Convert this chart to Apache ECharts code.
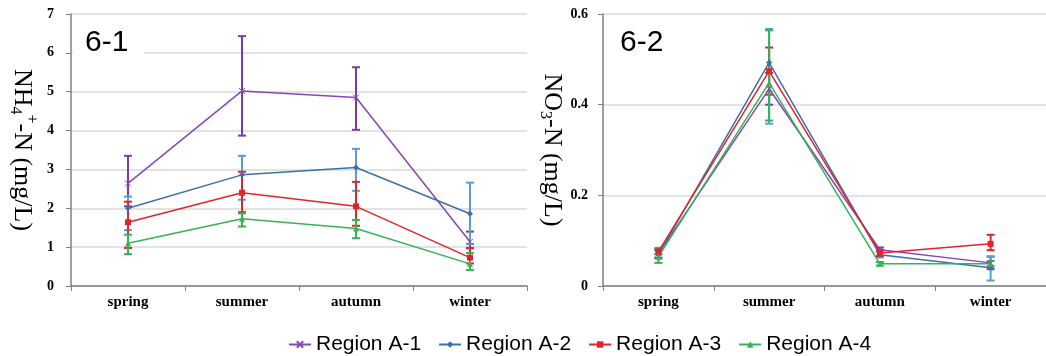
<!DOCTYPE html>
<html>
<head>
<meta charset="utf-8">
<script src="https://cdn.jsdelivr.net/npm/echarts@6/dist/echarts.min.js"></script>
<style>html,body{margin:0;padding:0;background:#fff}#c{width:1046px;height:356px}</style>
</head>
<body>
<div id="c"></div>
<script>
const seasons = ['spring', 'summer', 'autumn', 'winter'];
const regions = ['Region A-1', 'Region A-2', 'Region A-3', 'Region A-4'];

// NH4+-N (mg/L)
const nh4A1 = [2.64, 5.02, 4.85, 1.14];
const nh4A2 = [2.00, 2.86, 3.05, 1.86];
const nh4A3 = [1.64, 2.40, 2.05, 0.73];
const nh4A4 = [1.10, 1.73, 1.48, 0.57];
const nh4A1Hi = [3.35, 6.43, 5.63, 1.40];
const nh4A2Hi = [2.30, 3.35, 3.53, 2.66];
const nh4A3Hi = [2.17, 2.94, 2.68, 0.98];
const nh4A4Hi = [1.32, 1.87, 1.70, 0.85];
const nh4A1Lo = [2.05, 3.87, 4.02, 0.97];
const nh4A2Lo = [1.44, 2.22, 2.45, 1.08];
const nh4A3Lo = [0.98, 1.90, 1.55, 0.58];
const nh4A4Lo = [0.82, 1.53, 1.23, 0.41];

// NO3-N (mg/L)
const no3A1 = [0.071, 0.435, 0.080, 0.051];
const no3A2 = [0.069, 0.493, 0.069, 0.040];
const no3A3 = [0.076, 0.474, 0.073, 0.093];
const no3A4 = [0.065, 0.448, 0.049, 0.049];
const no3A1Hi = [0.080, 0.470, 0.085, 0.065];
const no3A2Hi = [0.078, 0.567, 0.075, 0.065];
const no3A3Hi = [0.082, 0.526, 0.080, 0.113];
const no3A4Hi = [0.084, 0.564, 0.053, 0.055];
const no3A1Lo = [0.062, 0.400, 0.075, 0.037];
const no3A2Lo = [0.060, 0.358, 0.063, 0.012];
const no3A3Lo = [0.070, 0.422, 0.066, 0.079];
const no3A4Lo = [0.051, 0.365, 0.045, 0.043];

const lineColors = ['#8a45b5', '#3d6fa8', '#e0242c', '#35b356'];
const barColors = ['#7b3aa8', '#5a9bd8', '#e0242c', '#2fb552'];
const symbols = ['path://M0,0L10,10M10,0L0,10', 'diamond', 'rect', 'triangle'];
const symbolSizes = [6, 6, 6, 6];

const nh4Means = [nh4A1, nh4A2, nh4A3, nh4A4];
const nh4His = [nh4A1Hi, nh4A2Hi, nh4A3Hi, nh4A4Hi];
const nh4Los = [nh4A1Lo, nh4A2Lo, nh4A3Lo, nh4A4Lo];
const no3Means = [no3A1, no3A2, no3A3, no3A4];
const no3His = [no3A1Hi, no3A2Hi, no3A3Hi, no3A4Hi];
const no3Los = [no3A1Lo, no3A2Lo, no3A3Lo, no3A4Lo];

const serif = "'Liberation Serif', 'Times New Roman', serif";
const sans = "'Liberation Sans', Arial, sans-serif";

function errSeries(idx, lo, hi, color) {
  return {
    type: 'custom',
    name: 'err' + idx,
    xAxisIndex: idx, yAxisIndex: idx,
    z: 3,
    silent: true,
    data: seasons.map((s, i) => [i, lo[i], hi[i]]),
    renderItem: function (params, api) {
      const x = api.value(0);
      const a = api.coord([x, api.value(1)]);
      const b = api.coord([x, api.value(2)]);
      const w = 4;
      const st = { stroke: color, lineWidth: 2 };
      return {
        type: 'group',
        children: [
          { type: 'line', shape: { x1: a[0], y1: a[1], x2: b[0], y2: b[1] }, style: st },
          { type: 'line', shape: { x1: a[0] - w, y1: a[1], x2: a[0] + w, y2: a[1] }, style: st },
          { type: 'line', shape: { x1: b[0] - w, y1: b[1], x2: b[0] + w, y2: b[1] }, style: st }
        ]
      };
    }
  };
}

function lineSeries(idx, r, data) {
  return {
    type: 'line',
    name: regions[r],
    xAxisIndex: idx, yAxisIndex: idx,
    z: 4,
    data: data,
    symbol: symbols[r],
    symbolSize: symbolSizes[r],
    showAllSymbol: true,
    lineStyle: { color: lineColors[r], width: 1.5 },
    itemStyle: { color: lineColors[r], borderColor: lineColors[r], borderWidth: r === 0 ? 1 : 0 }
  };
}

const series = [];
for (let r = 0; r < 4; r++) {
  series.push(errSeries(0, nh4Los[r], nh4His[r], barColors[r]));
  series.push(errSeries(1, no3Los[r], no3His[r], barColors[r]));
}
for (let r = 0; r < 4; r++) {
  series.push(lineSeries(0, r, nh4Means[r]));
  series.push(lineSeries(1, r, no3Means[r]));
}

function xAxis(grid) {
  return {
    type: 'category', gridIndex: grid, data: seasons,
    axisLine: { lineStyle: { color: '#808080', width: 1.5 } },
    axisTick: { show: true, length: 5, lineStyle: { color: '#808080' } },
    axisLabel: { fontFamily: serif, fontWeight: 'bold', fontSize: 15, color: '#000', margin: 9 },
    splitLine: { show: false }
  };
}
function yAxis(grid, max, interval, nameRich, gap, labelMargin) {
  return {
    type: 'value', gridIndex: grid, min: 0, max: max, interval: interval,
    name: nameRich, nameLocation: 'middle', nameRotate: -90, nameGap: gap,
    nameTextStyle: {
      fontFamily: serif, fontSize: 26, color: '#000',
      rich: {
        a: { fontFamily: serif, fontSize: 26, color: '#000' },
        s: { fontFamily: serif, fontSize: 16, color: '#000', verticalAlign: 'bottom', padding: [0, 0, -2, 0] },
        p: { fontFamily: serif, fontSize: 16, color: '#000', verticalAlign: 'top', padding: [-4, 0, 0, 0] }
      }
    },
    axisLine: { show: true, lineStyle: { color: '#808080', width: 1.5 } },
    axisTick: { show: true, length: 5, lineStyle: { color: '#808080' } },
    axisLabel: { fontFamily: serif, fontWeight: 'bold', fontSize: 14, color: '#000', margin: labelMargin },
    splitLine: { show: true, lineStyle: { color: '#d9d9d9', width: 1.5 } }
  };
}

const option = {
  animation: false,
  backgroundColor: '#fff',
  title: [
    { text: '6-1', left: 73, top: 23, padding: [5, 16, 5, 12], backgroundColor: '#fff',
      textStyle: { fontFamily: sans, fontSize: 30, fontWeight: 'normal', color: '#000' } },
    { text: '6-2', left: 606, top: 23, padding: [5, 14, 5, 14], backgroundColor: '#fff',
      textStyle: { fontFamily: sans, fontSize: 30, fontWeight: 'normal', color: '#000' } }
  ],
  grid: [
    { left: 71, top: 14, width: 456, height: 272 },
    { left: 603, top: 14, width: 454, height: 272 }
  ],
  xAxis: [xAxis(0), xAxis(1)],
  yAxis: [
    yAxis(0, 7, 1, '{a|NH}{s|4}{p|+}{a|-N (mg/L)}', 36, 17),
    yAxis(1, 0.6, 0.2, '{a|NO}{s|3}{a|-N (mg/L)}', 38, 15)
  ],
  legend: {
    data: regions,
    left: 283, top: 329,
    itemWidth: 22, itemHeight: 8, itemGap: 17,
    textStyle: { fontFamily: sans, fontSize: 21, color: '#000' }
  },
  series: series
};

const chart = echarts.init(document.getElementById('c'), null, { renderer: 'canvas' });
chart.setOption(option);
</script>
</body>
</html>
